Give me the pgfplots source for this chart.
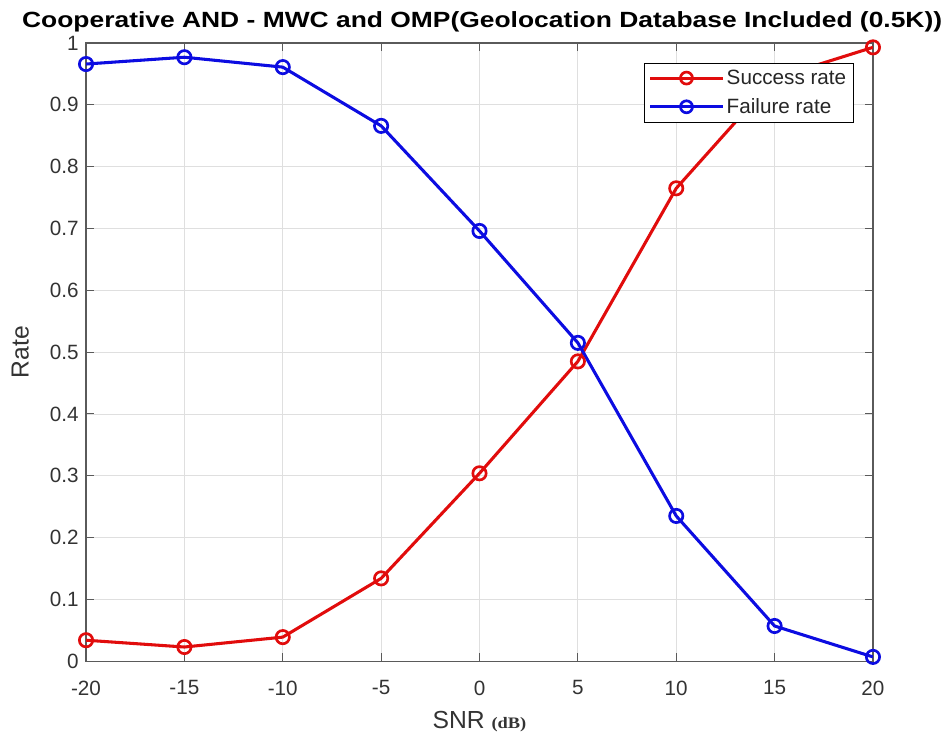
\documentclass[border=0pt]{standalone}
\usepackage{pgfplots}
\pgfplotsset{compat=1.18}
\usepackage{fontspec}
\setmainfont{Liberation Sans}
\newfontfamily\seriffont{Liberation Serif}
\definecolor{myred}{RGB}{225,12,12}
\definecolor{myblue}{RGB}{12,12,225}
\definecolor{axgray}{RGB}{90,90,90}
\begin{document}
\begin{tikzpicture}
\begin{axis}[
  scale only axis,
  width=590pt, height=463.5pt,
  xmin=-20, xmax=20, ymin=0, ymax=1,
  xtick={-20,-15,...,20},
  ytick={0,0.1,...,1},
  yticklabels={0,0.1,0.2,0.3,0.4,0.5,0.6,0.7,0.8,0.9,1},
  /pgf/number format/assume math mode=true,
  tick label style={font=\fontsize{15.5}{18}\selectfont, text=black!80},
  xticklabel style={yshift=-11pt},
  yticklabel style={xshift=-2pt},
  grid=major,
  major grid style={gray!25, line width=0.6pt},
  axis line style={axgray, line width=0.8pt},
  tick style={axgray, line width=0.8pt},
  major tick length=6pt,
  tick align=inside,
  xlabel={SNR {\seriffont\bfseries\fontsize{12}{13}\selectfont\scalebox{1.15}[1]{(dB)}}},
  ylabel={Rate},
  label style={font=\fontsize{18.5}{21}\selectfont, text=black!80},
  xlabel style={yshift=-5pt},
  ylabel style={yshift=9pt},
  title={\scalebox{1.2}[1]{\bfseries Cooperative AND - MWC and OMP(Geolocation Database Included (0.5K))}},
  title style={font=\fontsize{16.5}{19}\selectfont, yshift=-1pt, xshift=2pt},
  legend style={at={(0.975,0.968)}, anchor=north east, font=\fontsize{15.5}{18}\selectfont,
     draw=black, line width=0.6pt, inner sep=3pt, row sep=5pt, text=black!85},
  legend cell align=left,
  legend image code/.code={\draw[mark repeat=2,mark phase=2,#1, mark size=4.5pt] plot coordinates {(0cm,0cm) (0.95cm,0cm) (1.9cm,0cm)};},
  every axis plot/.append style={line width=2.3pt, mark=o, mark size=5pt, mark options={line width=2pt}},
]
\addplot[color=myred] coordinates {
(-20,0.034) (-15,0.023) (-10,0.039) (-5,0.134) (0,0.304) (5,0.485) (10,0.765) (15,0.943) (20,0.993)};
\addlegendentry{Success rate}
\addplot[color=myblue] coordinates {
(-20,0.966) (-15,0.977) (-10,0.961) (-5,0.866) (0,0.696) (5,0.515) (10,0.235) (15,0.057) (20,0.007)};
\addlegendentry{Failure rate}
\path (rel axis cs:0,0) ++(-64.5pt,-54pt) coordinate (BL);
\path (rel axis cs:1,1) ++(54.75pt,32.25pt) coordinate (TR);
\end{axis}
\pgfresetboundingbox
\useasboundingbox (BL) rectangle (TR);
\end{tikzpicture}
\end{document}
